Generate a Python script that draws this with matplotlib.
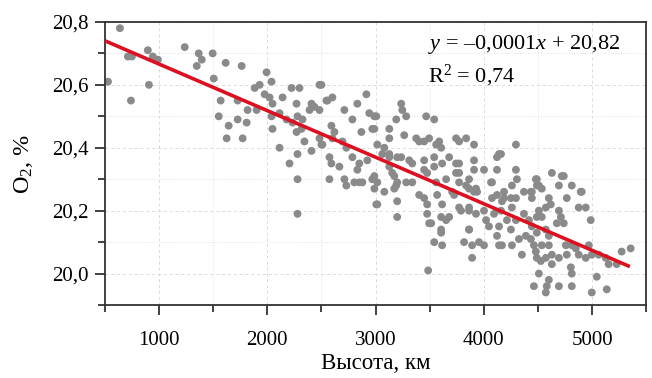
import numpy as np
import matplotlib
matplotlib.use("Agg")
import matplotlib.pyplot as plt
from matplotlib.ticker import MultipleLocator, FuncFormatter

# values (height, km / O2, %)
height_km = [
    528, 638, 712, 749, 740, 896, 906, 942, 989, 1237, 1366, 1394, 1348, 1495, 1505,
    1615, 1569, 1551, 1643, 1624, 1726, 1726, 1772, 1763, 1809, 1818, 1883, 1929, 1993,
    2039, 1975, 2021, 2048, 2141, 2224, 2297, 2482, 2270, 2408, 2436, 2390, 2482, 2555,
    2601, 2915, 2832, 2712, 2786, 2942, 2989, 1901, 2039, 2048, 2113, 2178, 2233, 2279,
    2325, 2270, 2316, 2343, 2482, 2500, 2592, 2620, 2601, 2694, 2730, 2869, 2970, 2113,
    2205, 2279, 2408, 2574, 2592, 2666, 2786, 2850, 2924, 2832, 2279, 2574, 2712, 2804,
    2878, 2970, 2730, 2989, 3007, 2279, 2500, 2546, 3007, 3237, 3191, 3283, 3468, 3542,
    2509, 3127, 3127, 3265, 3376, 3449, 3495, 3560, 3744, 3837, 3910, 4297, 4141, 4122,
    3062, 3127, 3237, 3311, 3449, 3542, 3680, 3744, 3910, 3772, 3910, 4002, 4076, 4297,
    4306, 4490, 4629, 4721, 4813, 4905, 4509, 4694, 4444, 2850, 2989, 3173, 3283, 3191,
    3560, 3837, 3708, 3928, 4187, 4251, 4297, 3247, 2989, 3403, 3588, 3606, 3772, 3016,
    3081, 3127, 3200, 3339, 3615, 3772, 3127, 3154, 3200, 3449, 3542, 3477, 3652, 3744,
    3864, 3772, 3864, 4122, 4067, 3016, 3081, 3173, 3339, 3403, 3449, 3477, 3569, 3615,
    3726, 3772, 3864, 3910, 3938, 4122, 4076, 4168, 3016, 3200, 3200, 3477, 3514, 3606,
    3652, 3680, 3790, 3864, 3928, 4002, 4021, 4095, 4141, 3864, 3495, 3606, 3606, 3542,
    3615, 3864, 3818, 3892, 3956, 4002, 3892, 4122, 4141, 4048, 3486,
    4159, 4260, 4371, 4435, 4444, 4187, 4481, 4490, 4536, 4739, 4767, 4896, 4601, 4619,
    4573, 4509, 4490, 4536, 4694, 4712, 4739, 4675, 4877, 4942, 4988, 4371, 4260, 4159,
    4214, 4297, 4251, 4417, 4444, 4490, 4573, 4601, 4389, 4325, 4435, 4463, 4536, 4601,
    4260, 4168, 4352, 4481, 4490, 4573, 4527, 4629, 4694, 4758, 4850, 4767, 4877, 4942,
    4998, 5062, 4813, 4970, 5127, 5154, 5228, 5274, 5357, 4629, 4804, 4813, 4509, 4601,
    4813, 4694, 4463, 4582, 4573, 4998, 5136, 5044,
]
o2_pct = [
    20.61, 20.78, 20.69, 20.69, 20.55, 20.71, 20.60, 20.69, 20.68, 20.72, 20.70, 20.68, 20.66, 20.70, 20.62,
    20.67, 20.55, 20.50, 20.47, 20.43, 20.49, 20.55, 20.43, 20.66, 20.48, 20.52, 20.59, 20.60, 20.64,
    20.61, 20.57, 20.56, 20.54, 20.56, 20.59, 20.59, 20.60, 20.54, 20.54, 20.53, 20.52, 20.52, 20.55,
    20.56, 20.57, 20.54, 20.52, 20.49, 20.51, 20.50, 20.52, 20.50, 20.46, 20.51, 20.49, 20.48, 20.50,
    20.49, 20.45, 20.46, 20.42, 20.43, 20.41, 20.47, 20.45, 20.43, 20.42, 20.40, 20.45, 20.46, 20.40,
    20.35, 20.38, 20.39, 20.37, 20.35, 20.34, 20.37, 20.35, 20.36, 20.33, 20.30, 20.30, 20.30, 20.29,
    20.29, 20.30, 20.28, 20.27, 20.22, 20.19, 20.60, 20.55, 20.50, 20.54, 20.49, 20.50, 20.50, 20.49,
    20.41, 20.46, 20.43, 20.44, 20.43, 20.42, 20.43, 20.41, 20.43, 20.43, 20.41, 20.41, 20.38, 20.37,
    20.38, 20.37, 20.37, 20.36, 20.36, 20.37, 20.37, 20.35, 20.36, 20.32, 20.33, 20.33, 20.29, 20.33,
    20.30, 20.30, 20.32, 20.31, 20.28, 20.26, 20.28, 20.28, 20.26, 20.29, 20.31, 20.31, 20.29, 20.28,
    20.29, 20.28, 20.26, 20.27, 20.26, 20.24, 20.24, 20.52, 20.46, 20.42, 20.42, 20.40, 20.42, 20.41,
    20.40, 20.38, 20.37, 20.35, 20.35, 20.35, 20.34, 20.32, 20.29, 20.33, 20.34, 20.32, 20.30, 20.32,
    20.30, 20.29, 20.27, 20.33, 20.29, 20.29, 20.26, 20.27, 20.29, 20.25, 20.24, 20.22, 20.25, 20.22,
    20.25, 20.21, 20.21, 20.26, 20.26, 20.25, 20.24, 20.23, 20.22, 20.23, 20.18, 20.19, 20.16, 20.18,
    20.17, 20.18, 20.20, 20.20, 20.19, 20.20, 20.17, 20.19, 20.15, 20.14, 20.16, 20.14, 20.13, 20.10,
    20.09, 20.14, 20.10, 20.09, 20.10, 20.09, 20.05, 20.12, 20.09, 20.15, 20.01,
    20.38, 20.28, 20.26, 20.26, 20.24, 20.24, 20.30, 20.28, 20.27, 20.31, 20.24, 20.26, 20.24, 20.22,
    20.21, 20.20, 20.18, 20.18, 20.20, 20.18, 20.16, 20.16, 20.21, 20.21, 20.17, 20.19, 20.21, 20.20,
    20.17, 20.17, 20.14, 20.17, 20.15, 20.13, 20.14, 20.12, 20.12, 20.11, 20.11, 20.09, 20.09, 20.09,
    20.09, 20.09, 20.06, 20.07, 20.05, 20.05, 20.04, 20.06, 20.05, 20.09, 20.08, 20.06, 20.06, 20.05,
    20.06, 20.06, 20.09, 20.09, 20.05, 20.03, 20.03, 20.07, 20.08, 20.03, 20.02, 20.00, 20.00, 19.98,
    19.96, 19.96, 19.96, 19.96, 19.94, 19.94, 19.95, 19.99,
]

# trend line as drawn in the picture
fit_slope = -0.000148
fit_intercept = 20.814
fit_range = [500, 5350]

plt.rcParams['font.family'] = ['Liberation Serif', 'DejaVu Serif']
plt.rcParams['mathtext.fontset'] = 'custom'
plt.rcParams['mathtext.rm'] = 'Liberation Serif'
plt.rcParams['mathtext.it'] = 'Liberation Serif:italic'

fig = plt.figure(figsize=(6.52, 3.78), dpi=100)
ax = fig.add_axes([0.161, 0.193, 0.830, 0.749])

ax.grid(True, which='major', color='#dadada', linestyle='--', linewidth=0.7, dashes=(3, 3))
ax.grid(True, which='minor', color='#e0e0e0', linestyle=':', linewidth=0.7)
ax.set_axisbelow(True)

ax.scatter(height_km, o2_pct, s=32, color='#8a8a8a', edgecolors='none', zorder=2)

xf = np.array(fit_range)
ax.plot(xf, fit_slope * xf + fit_intercept, color='#dc1020', linewidth=2.6,
        solid_capstyle='butt', zorder=3)

ax.text(0.597, 0.919, r'$\it{y}$ = –0,0001$\it{x}$ + 20,82', transform=ax.transAxes,
        fontsize=16, va='center', ha='left')
ax.text(0.597, 0.810, r'R$^2$ = 0,74', transform=ax.transAxes,
        fontsize=16, va='center', ha='left')

ax.set_xlim(500, 5500)
ax.set_ylim(19.9, 20.8)
ax.xaxis.set_major_locator(MultipleLocator(1000))
ax.xaxis.set_minor_locator(MultipleLocator(500))
ax.yaxis.set_major_locator(MultipleLocator(0.2))
ax.yaxis.set_minor_locator(MultipleLocator(0.1))
ax.yaxis.set_major_formatter(FuncFormatter(lambda v, p: f"{v:.1f}".replace('.', ',')))

for s in ax.spines.values():
    s.set_color('#333333')
    s.set_linewidth(1.3)
ax.tick_params(axis='both', which='major', direction='out', length=7, width=1.3,
               color='#333333', labelsize=15)
ax.tick_params(axis='x', which='major', pad=12)
ax.tick_params(axis='y', which='major', pad=5)
ax.tick_params(axis='both', which='minor', direction='out', length=5, width=1.3,
               color='#333333')
ax.tick_params(axis='x', which='both', top=False)
ax.tick_params(axis='y', which='both', right=False)

ax.set_xlabel('Высота, км', fontsize=16.5, labelpad=2)
ax.set_ylabel('O$_2$, %', fontsize=17.5, labelpad=12)

fig.savefig('out.png', dpi=100)
